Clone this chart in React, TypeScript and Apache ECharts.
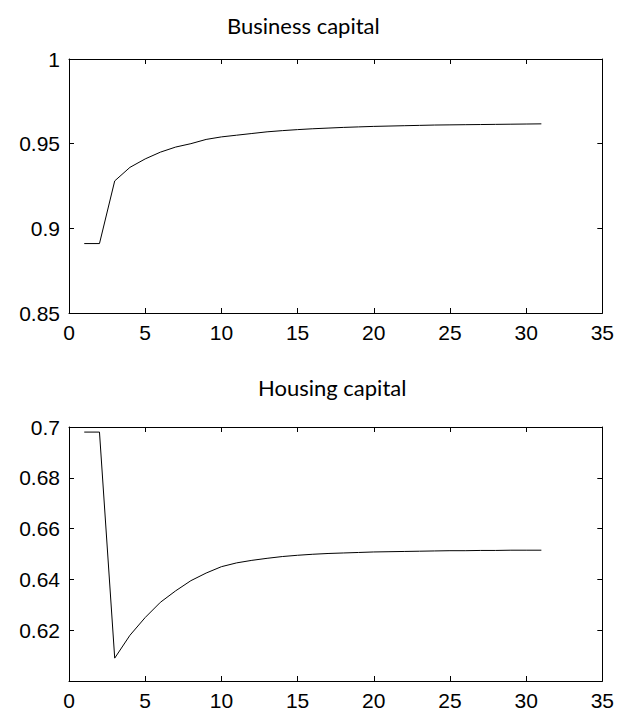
import React, { useEffect, useRef } from "react";
import * as echarts from "echarts";

const periods = [1, 2, 3, 4, 5, 6, 7, 8, 9, 10, 11, 12, 13, 14, 15, 16, 17, 18, 19, 20, 21, 22, 23, 24, 25, 26, 27, 28, 29, 30, 31];
const businessCapital = [
  0.891, 0.891, 0.928, 0.936, 0.941, 0.945, 0.948, 0.95, 0.9525, 0.954,
  0.955, 0.956, 0.957, 0.9577, 0.9583, 0.9588, 0.9592, 0.9596, 0.9599, 0.9602,
  0.9604, 0.9606, 0.9608, 0.961, 0.9611, 0.9612, 0.9613, 0.9614, 0.9615, 0.9616, 0.9617,
];
const housingCapital = [
  0.698, 0.698, 0.609, 0.618, 0.625, 0.631, 0.6355, 0.6395, 0.6425, 0.645,
  0.6465, 0.6475, 0.6483, 0.649, 0.6495, 0.6499, 0.6502, 0.6504, 0.6506, 0.6508,
  0.6509, 0.651, 0.6511, 0.6512, 0.6513, 0.6513, 0.6514, 0.6514, 0.6515, 0.6515, 0.6515,
];
const xTickLabels = ["0", "5", "10", "15", "20", "25", "30", "35"];
const businessTickLabels = ["0.85", "0.9", "0.95", "1"];
const housingTickLabels = ["", "0.62", "0.64", "0.66", "0.68", "0.7"];
const titles = ["Business capital", "Housing capital"];

const labelFont = { fontFamily: "Liberation Sans, Arial, sans-serif", fontSize: 21, color: "#000" };

function xAxes(gridIndex: number) {
  const base = {
    type: "value" as const,
    gridIndex,
    min: 0,
    max: 35,
    interval: 5,
    axisLine: { show: true, onZero: false, lineStyle: { color: "#000", width: 1 } },
    axisTick: { show: true, inside: true, length: 5, lineStyle: { color: "#000", width: 1 } },
    splitLine: { show: false },
  };
  return [
    {
      ...base,
      position: "bottom",
      axisLabel: {
        ...labelFont,
        margin: 9,
        formatter: (v: number) => xTickLabels[Math.round(v / 5)] ?? "",
      },
    },
    { ...base, position: "top", axisLabel: { show: false } },
  ];
}

function yAxes(gridIndex: number, min: number, max: number, interval: number, labels: string[]) {
  const base = {
    type: "value" as const,
    gridIndex,
    min,
    max,
    interval,
    axisLine: { show: true, onZero: false, lineStyle: { color: "#000", width: 1 } },
    axisTick: { show: true, inside: true, length: 5, lineStyle: { color: "#000", width: 1 } },
    splitLine: { show: false },
  };
  return [
    {
      ...base,
      position: "left",
      axisLabel: {
        ...labelFont,
        margin: 9,
        showMinLabel: true,
        showMaxLabel: true,
        formatter: (v: number) => labels[Math.round((v - min) / interval)] ?? "",
      },
    },
    { ...base, position: "right", axisLabel: { show: false } },
  ];
}

export default function App() {
  const ref = useRef<HTMLDivElement>(null);
  useEffect(() => {
    document.body.style.margin = "0";
    if (!ref.current) return;
    const chart = echarts.init(ref.current, null, { renderer: "svg" });
    chart.setOption({
      animation: false,
      backgroundColor: "#fff",
      grid: [
        { left: 69, right: 11, top: 59, height: 254 },
        { left: 69, right: 11, top: 427, height: 255 },
      ],
      xAxis: [...xAxes(0), ...xAxes(1)],
      yAxis: [
        ...yAxes(0, 0.85, 1, 0.05, businessTickLabels),
        ...yAxes(1, 0.6, 0.7, 0.02, housingTickLabels),
      ],
      graphic: [
        {
          type: "text",
          left: 227,
          top: 14,
          style: { text: titles[0], font: "22px Lato, 'Open Sans', sans-serif", fill: "#000" },
        },
        {
          type: "text",
          left: 258,
          top: 376,
          style: { text: titles[1], font: "22px Lato, 'Open Sans', sans-serif", fill: "#000" },
        },
      ],
      series: [
        {
          type: "line",
          xAxisIndex: 0,
          yAxisIndex: 0,
          data: periods.map((p, i) => [p, businessCapital[i]]),
          showSymbol: false,
          lineStyle: { color: "#000", width: 1 },
        },
        {
          type: "line",
          xAxisIndex: 2,
          yAxisIndex: 2,
          data: periods.map((p, i) => [p, housingCapital[i]]),
          showSymbol: false,
          lineStyle: { color: "#000", width: 1 },
        },
      ],
    });
    return () => chart.dispose();
  }, []);
  return <div ref={ref} style={{ width: 617, height: 711 }} />;
}
